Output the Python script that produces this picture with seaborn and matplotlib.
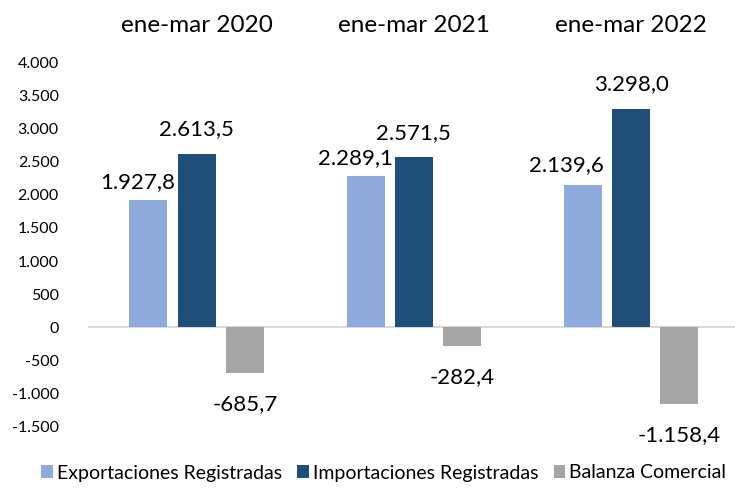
import matplotlib
matplotlib.use("Agg")
import matplotlib.pyplot as plt
from matplotlib.ticker import FuncFormatter
from matplotlib.patches import Patch
import seaborn as sns
import pandas as pd

periods = ["ene-mar 2020", "ene-mar 2021", "ene-mar 2022"]
series = ["Exportaciones Registradas", "Importaciones Registradas", "Balanza Comercial"]
exportaciones = [1927.8, 2289.1, 2139.6]
importaciones = [2613.5, 2571.5, 3298.0]
balanza = [-685.7, -282.4, -1158.4]
y_ticks = [-1500, -1000, -500, 0, 500, 1000, 1500, 2000, 2500, 3000, 3500, 4000]

colors = ["#8FAADC", "#1F4E79", "#A5A5A5"]

rows = []
for vals, s in zip([exportaciones, importaciones, balanza], series):
    for p, v in zip(periods, vals):
        rows.append({"periodo": p, "serie": s, "valor": v})
df = pd.DataFrame(rows)

sns.set_theme(style="white")
plt.rcParams["font.family"] = ["Lato", "DejaVu Sans"]

fig = plt.figure(figsize=(7.35, 5.0), dpi=100)
ax = fig.add_axes([88 / 735, 1 - 427 / 500, 651.6 / 735, 365 / 500])

sns.barplot(data=df, x="periodo", y="valor", hue="serie", order=periods,
            hue_order=series, palette=colors, width=0.667, gap=0.213,
            saturation=1, ax=ax, legend=False, errorbar=None, linewidth=0)

ax.set_xlim(-0.5, 2.5)
ax.set_ylim(-1500, 4000)
ax.set_yticks(y_ticks)
ax.yaxis.set_major_formatter(FuncFormatter(lambda v, _: f"{int(v):,}".replace(",", ".")))
ax.tick_params(axis="y", length=0, pad=21, labelsize=11.5, labelcolor="#000000")
ax.xaxis.set_ticks_position("top")
ax.tick_params(axis="x", length=0, pad=19, labelsize=17.5, labelcolor="#000000")
ax.set_xlabel("")
ax.set_ylabel("")
for sp in ax.spines.values():
    sp.set_visible(False)
ax.axhline(0, color="#D9D9D9", lw=1.5, zorder=0.5)

# label offsets (pixels): (dx, dy)
offsets = [
    [(-11, 17), (-10, 17), (-16, 20)],
    [(0, 25), (0, 24), (0, 24)],
    [(0, -31), (0, -31), (0, -31)],
]
pt = 0.72
for si, (cont, vals) in enumerate(zip(ax.containers, [exportaciones, importaciones, balanza])):
    for bi, (bar, v) in enumerate(zip(cont.patches, vals)):
        xc = bar.get_x() + bar.get_width() / 2
        dx, dy = offsets[si][bi]
        txt = f"{v:,.1f}".replace(",", "X").replace(".", ",").replace("X", ".")
        ax.annotate(txt, (xc, v), xytext=(dx * pt, dy * pt), textcoords="offset points",
                    ha="center", va="center", fontsize=16, color="#000000",
                    annotation_clip=False)

handles = [Patch(facecolor=c, edgecolor="none") for c in colors]
fig.legend(handles, series, loc="center", bbox_to_anchor=(0.522, 0.054), ncol=3,
           frameon=False, fontsize=14, handlelength=0.6, handleheight=0.6,
           handletextpad=0.2, columnspacing=0.8, labelcolor="#000000")

fig.savefig("out.png", dpi=100)
